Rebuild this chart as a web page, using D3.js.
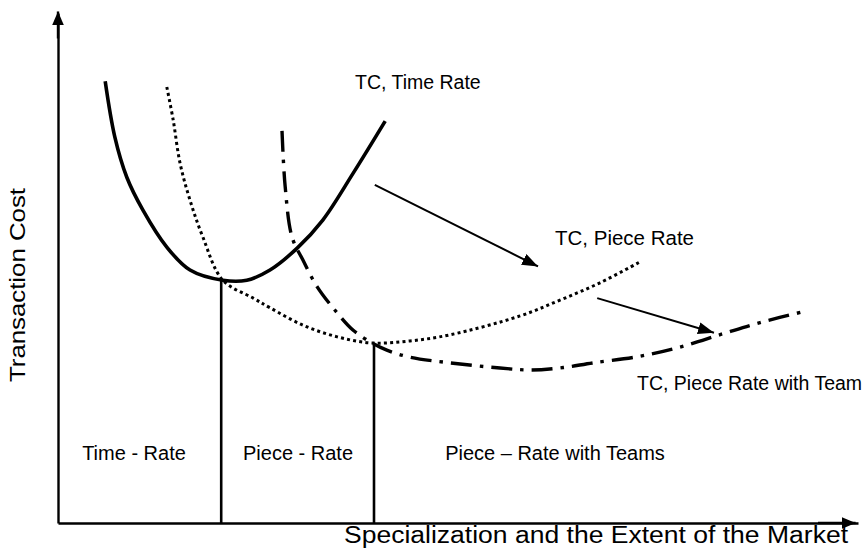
<!DOCTYPE html>
<html>
<head>
<meta charset="utf-8">
<script src="https://cdn.jsdelivr.net/npm/d3@7/dist/d3.min.js"></script>
<style>
  html, body { margin: 0; padding: 0; background: #fff; }
  svg { display: block; }
  text { font-family: "Liberation Sans", Arial, sans-serif; fill: #000; }
</style>
</head>
<body>
<svg id="chart" width="862" height="548"></svg>
<script>
// Transaction cost curves against specialization (arbitrary 0–100 units)
const timeRateCurve = [
  [5.9, 86.6], [7.1, 75.7], [8.6, 67.8], [10.6, 61.4], [13.6, 54.1],
  [16.5, 49.6], [20.6, 47.6], [23.6, 47.6], [26.5, 49.6], [29.9, 53.9],
  [33.1, 59.4], [36.9, 68.6], [40.9, 78.8]
];
const pieceRateCurve = [
  [13.6, 85.5], [14.4, 79.0], [15.25, 70.6], [16.5, 63.3], [18.1, 56.1],
  [20.6, 47.6], [24.4, 44.1], [26.5, 42.2], [30.6, 38.8], [34.9, 36.5],
  [39.25, 35.3], [44, 35.7], [49, 36.9], [57.75, 40.6], [62.75, 43.7],
  [67.75, 47.1], [72.75, 51.2]
];
const teamRateCurve = [
  [28, 76.9], [28.4, 65.9], [29.25, 56.1], [30.6, 51.6], [32.4, 46.3],
  [34.9, 41.2], [36.9, 37.8], [39.25, 35.3], [41.1, 33.9], [44, 32.5],
  [49, 31.4], [55.25, 30.4], [59, 30], [62.75, 30.4], [66.9, 31.4],
  [72.4, 32.6], [77.75, 34.5], [83.1, 37.1], [87.75, 39.3], [93.6, 41.6]
];
// Regime boundaries: [x, cost at the crossing]
const boundaries = [[20.4, 47.6], [39.5, 34.9]];
// Shift arrows: [x1, y1, x2, y2]
const shiftArrows = [[39.6, 66.3, 60, 50.3], [67.4, 44.1, 82, 37.3]];
const curveLabels = ["TC, Time Rate", "TC, Piece Rate", "TC, Piece Rate with Team"];
const regimeLabels = ["Time - Rate", "Piece - Rate", "Piece \u2013 Rate with Teams"];
const xTitle = "Specialization and the Extent of the Market";
const yTitle = "Transaction Cost";

const svg = d3.select("#chart");
const x = d3.scaleLinear().domain([0, 100]).range([58, 858]);
const y = d3.scaleLinear().domain([0, 100]).range([523, 13]);

const defs = svg.append("defs");
function head(id, w, h) {
  defs.append("marker")
    .attr("id", id).attr("viewBox", `0 0 ${w} ${h}`)
    .attr("refX", w).attr("refY", h / 2)
    .attr("markerWidth", w).attr("markerHeight", h)
    .attr("markerUnits", "userSpaceOnUse")
    .attr("orient", "auto")
    .append("path").attr("d", `M0,0L${w},${h / 2}L0,${h}Z`).attr("fill", "#000");
}
head("axisHead", 14, 12);
head("shiftHead", 16, 12);

// Axes without ticks, capped with arrowheads
svg.append("g").attr("transform", `translate(${x(0)},0)`)
  .call(d3.axisLeft(y).tickValues([]).tickSizeOuter(0));
svg.append("g").attr("transform", `translate(0,${y(0)})`)
  .call(d3.axisBottom(x).tickValues([]).tickSizeOuter(0));
svg.selectAll(".domain").attr("stroke", "#000").attr("stroke-width", 2.4);
svg.append("line")
  .attr("x1", x(0)).attr("y1", y(95)).attr("x2", x(0)).attr("y2", y(100.3))
  .attr("stroke", "#000").attr("stroke-width", 2.4).attr("marker-end", "url(#axisHead)");
svg.append("line")
  .attr("x1", x(95)).attr("y1", y(0)).attr("x2", x(99.7)).attr("y2", y(0))
  .attr("stroke", "#000").attr("stroke-width", 2.4).attr("marker-end", "url(#axisHead)");

// Regime boundaries
svg.selectAll("line.boundary").data(boundaries).join("line")
  .attr("class", "boundary")
  .attr("x1", d => x(d[0])).attr("x2", d => x(d[0]))
  .attr("y1", d => y(d[1])).attr("y2", y(0))
  .attr("stroke", "#000").attr("stroke-width", 2.6);

const line = d3.line().x(d => x(d[0])).y(d => y(d[1])).curve(d3.curveCatmullRom.alpha(0.5));

svg.append("path").datum(timeRateCurve).attr("d", line)
  .attr("fill", "none").attr("stroke", "#000").attr("stroke-width", 3.6);
svg.append("path").datum(pieceRateCurve).attr("d", line)
  .attr("fill", "none").attr("stroke", "#000").attr("stroke-width", 3)
  .attr("stroke-dasharray", "3 3.2");
svg.append("path").datum(teamRateCurve).attr("d", line)
  .attr("fill", "none").attr("stroke", "#000").attr("stroke-width", 3.4)
  .attr("stroke-dasharray", "21 8 3.5 8");

// Shift arrows
svg.selectAll("line.shift").data(shiftArrows).join("line")
  .attr("class", "shift")
  .attr("x1", d => x(d[0])).attr("y1", d => y(d[1]))
  .attr("x2", d => x(d[2])).attr("y2", d => y(d[3]))
  .attr("stroke", "#000").attr("stroke-width", 2)
  .attr("marker-end", "url(#shiftHead)");

// Curve labels
const curveLabelPos = [[355, 89, 19.5], [555, 245, 20.5], [637, 390, 19.5]];
svg.selectAll("text.curve").data(curveLabels).join("text")
  .attr("class", "curve")
  .attr("x", (d, i) => curveLabelPos[i][0]).attr("y", (d, i) => curveLabelPos[i][1])
  .attr("font-size", (d, i) => curveLabelPos[i][2]).text(d => d);

// Regime labels
const regimeCenters = [134, 298, 555];
svg.selectAll("text.regime").data(regimeLabels).join("text")
  .attr("class", "regime")
  .attr("x", (d, i) => regimeCenters[i]).attr("y", 460)
  .attr("text-anchor", "middle").attr("font-size", 20).text(d => d);

// Axis titles
svg.append("text").attr("x", 596).attr("y", 543)
  .attr("text-anchor", "middle").attr("font-size", 23)
  .attr("textLength", 504).attr("lengthAdjust", "spacingAndGlyphs")
  .text(xTitle);
svg.append("text").attr("transform", "translate(25,285) rotate(-90)")
  .attr("text-anchor", "middle").attr("font-size", 22)
  .attr("textLength", 194).attr("lengthAdjust", "spacingAndGlyphs")
  .text(yTitle);
</script>
</body>
</html>
